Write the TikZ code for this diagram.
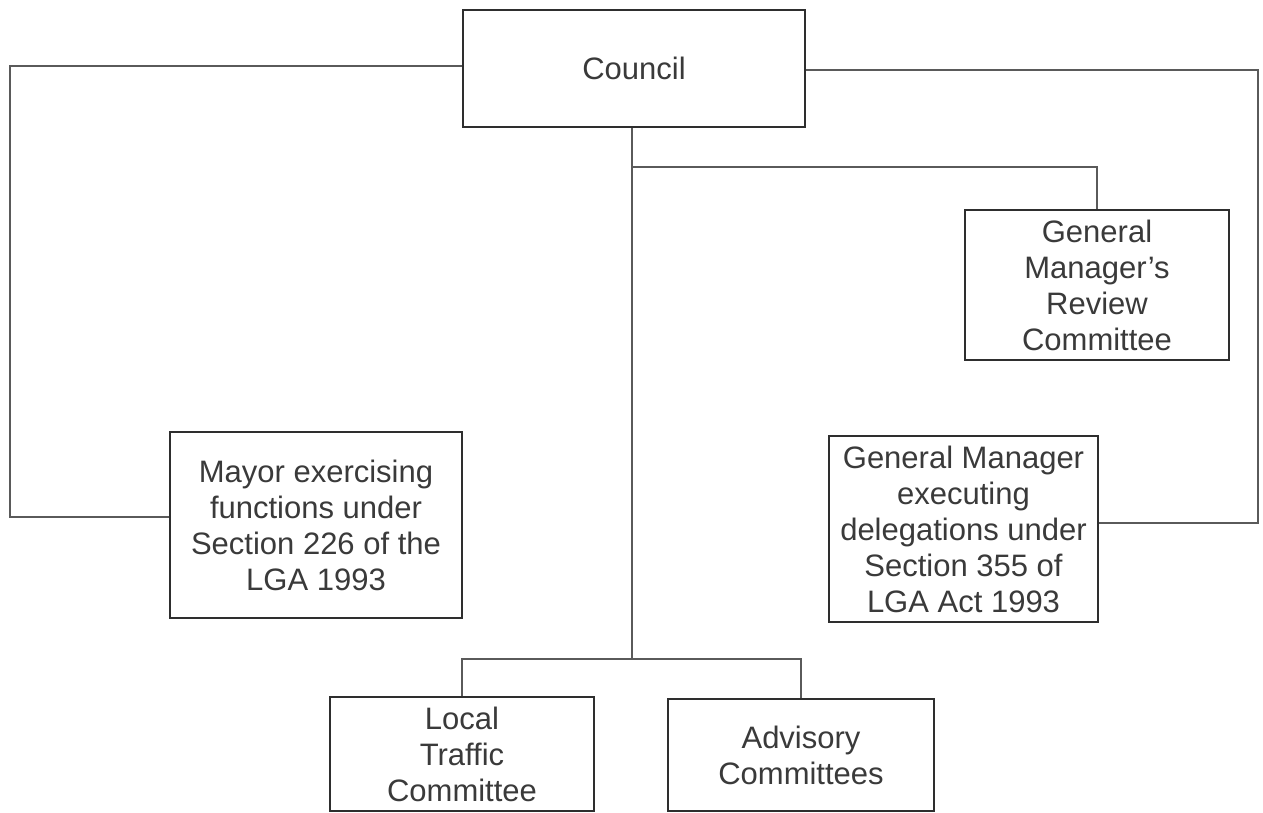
\documentclass[tikz,border=0pt]{standalone}
\usepackage{fontspec}
\setmainfont{Liberation Sans}
\definecolor{boxline}{HTML}{2E2E2E}
\definecolor{conn}{HTML}{5A5A5A}
\definecolor{txt}{HTML}{3A3A3A}
\begin{document}
\begin{tikzpicture}[x=1pt,y=-1pt,
  box/.style={draw=boxline, line width=2.6pt, rectangle, inner sep=0pt, align=center,
    text=txt, font=\fontsize{31}{36}\selectfont},
  link/.style={draw=conn, line width=1.7pt}]
\useasboundingbox (0,0) rectangle (1263,813);
\fill[white] (0,0) rectangle (1263,813);
\begin{scope}
\clip (0,0) rectangle (1263,813);
\node[box, minimum width=342pt, minimum height=117pt] (council) at (634,68.5) {Council};
\node[box, minimum width=292pt, minimum height=186pt] (mayor) at (316,525) {Mayor exercising\\functions under\\Section 226 of the\\LGA 1993};
\node[box, minimum width=264pt, minimum height=150pt] (gmrc) at (1097,285) {General\\Manager's\\Review\\Committee};
\node[box, minimum width=269pt, minimum height=186pt] (gm) at (963.5,529) {General Manager\\executing\\delegations under\\Section 355 of\\LGA Act 1993};
\node[box, minimum width=264pt, minimum height=114pt] (ltc) at (462,754) {Local\\Traffic\\Committee};
\node[box, minimum width=266pt, minimum height=112pt] (adv) at (801,755) {Advisory\\Committees};

\coordinate (j1) at (632,167);
\coordinate (j2) at (632,659);
\coordinate (l1) at (10,66);
\coordinate (l2) at (10,517);
\coordinate (r1) at (1258,70);
\coordinate (r2) at (1258,523);

\draw[link] (council.south -| j1) -- (j2);
\draw[link] (j1) -| (gmrc.north);
\draw[link] (ltc.north) |- (j2) -| (adv.north);
\draw[link] (council.west |- l1) -- (l1) -- (l2) -- (mayor.west |- l2);
\draw[link] (council.east |- r1) -- (r1) -- (r2) -- (gm.east |- r2);
\end{scope}
\end{tikzpicture}
\end{document}
